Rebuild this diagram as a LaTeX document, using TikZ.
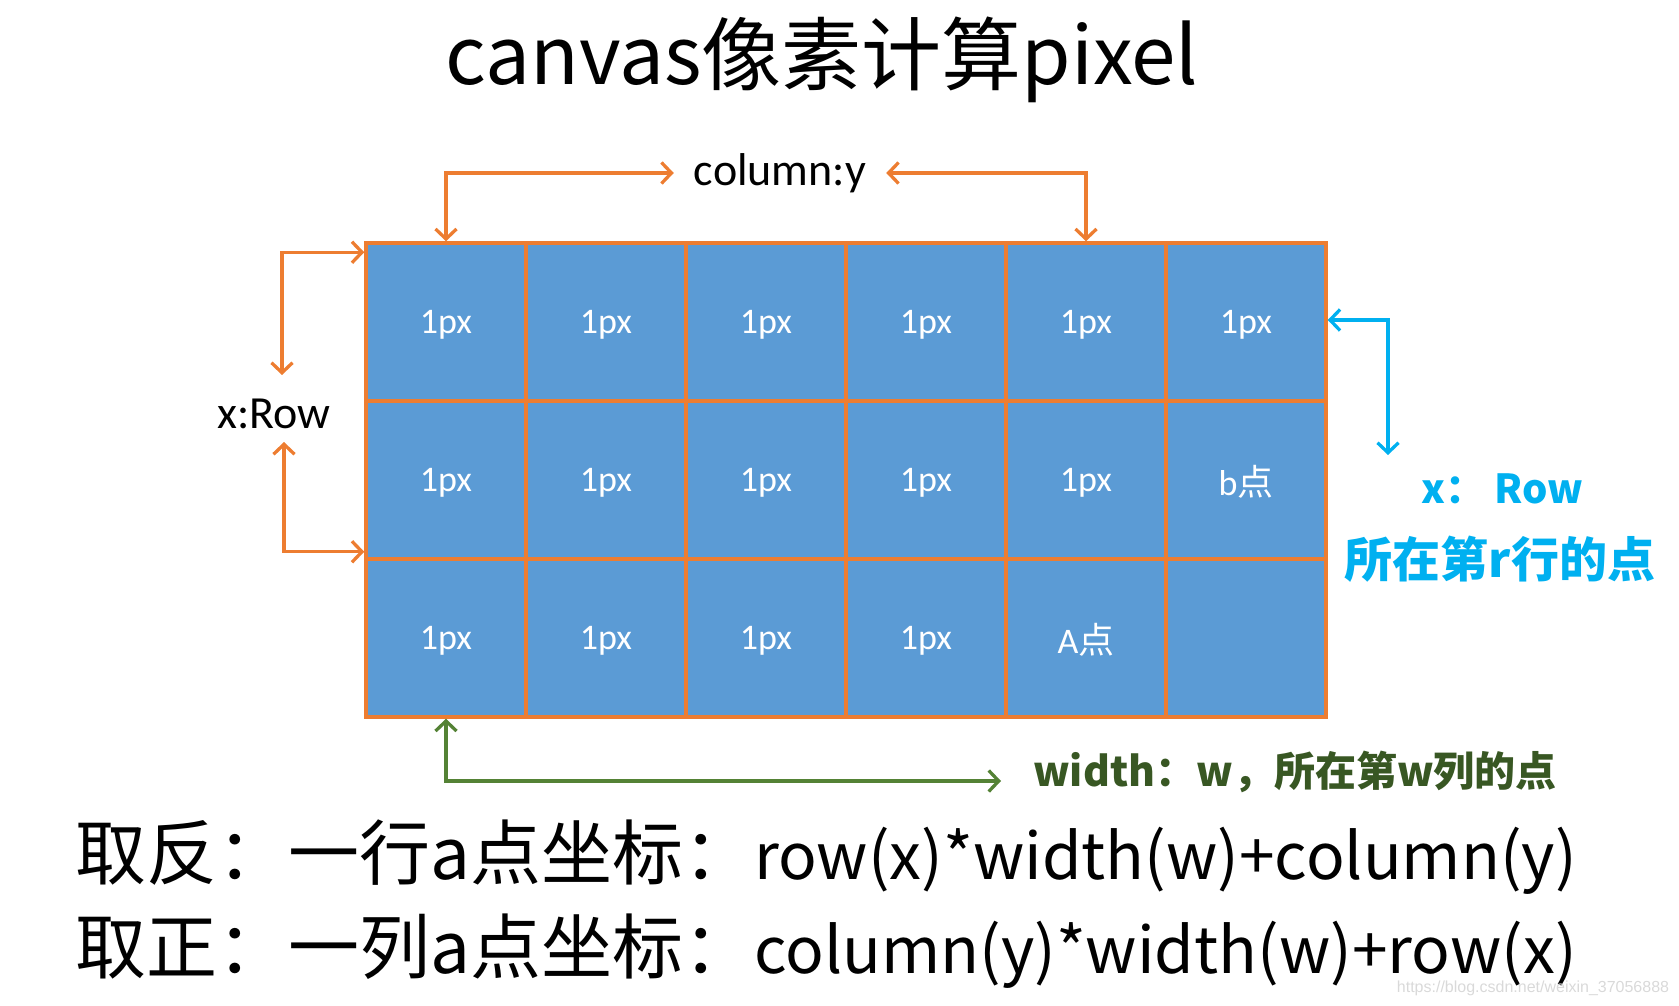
\documentclass[tikz,border=0pt]{standalone}
\usepackage{fontspec}
\setmainfont{Carlito}
\newfontfamily\cjk{Noto Sans CJK SC}
\newfontfamily\marksans{Liberation Sans}
\usetikzlibrary{arrows.meta, positioning, calc}

\definecolor{gridorange}{HTML}{ED7D31}
\definecolor{cellblue}{HTML}{5B9BD5}
\definecolor{rowcyan}{HTML}{00B0F0}
\definecolor{widthgreen}{HTML}{548235}
\definecolor{labelgreen}{HTML}{385723}
\definecolor{markgray}{HTML}{D9D9D9}

\newcommand{\px}[1]{\fontsize{#1}{#1}\selectfont}

\begin{document}
\begin{tikzpicture}[
    x=1pt, y=-1pt,
    cell/.style={draw=gridorange, fill=cellblue, line width=3.5pt, minimum width=160pt, minimum height=158pt, inner sep=0pt, text depth=0pt, text=white, font=\px{36}},
    hint/.style={font=\px{46}, inner sep=0pt},
    twoway/.style={line width=3.3pt, arrows={Straight Barb[length=10pt,width=21pt]-Straight Barb[length=10pt,width=21pt]}},
]
\useasboundingbox (0,0) rectangle (1679,1006);
\node[font=\cjk\px{80}] (title) at (822,60) {canvas像素计算pixel};
% pixel grid
\foreach \row [count=\r] in {{1px,1px,1px,1px,1px,1px},{1px,1px,1px,1px,1px,b{\cjk 点}},{1px,1px,1px,1px,A{\cjk 点},{}}} {
    \foreach \t [count=\c] in \row {
        \node[cell] (c\r\c) at ({446+160*(\c-1)}, {322+158*(\r-1)}) {\t};
    }
}
% column arrows
\node[hint, inner xsep=20pt] (collab) at (780,173) {column:y};
\draw[twoway, gridorange] (c11.north) |- (collab.west);
\draw[twoway, gridorange] (c15.north) |- (collab.east);
% row arrows
\node[hint] (rowlab) at (274,414) {x:Row};
\coordinate (rowup) at (282,375);
\coordinate (rowdown) at (284,442);
\draw[twoway, gridorange] (rowup) |- ([yshift=-11pt]c11.north west);
\draw[twoway, gridorange] (rowdown) |- ([yshift=9pt]c21.south west);
% right side
\coordinate (cyantip) at (1388,455);
\draw[twoway, rowcyan] ([yshift=2pt]c16.east) -| (cyantip);
\node[font=\cjk\bfseries\px{40}, text=rowcyan] (rowname) at (1502,489) {x： Row};
\node[font=\cjk\bfseries\px{48}, text=rowcyan] (rowpoint) at (1500,559) {所在第r行的点};
% bottom
\coordinate (greentip) at (1001,781);
\draw[twoway, widthgreen] (c31.south) |- (greentip);
\node[font=\cjk\bfseries\px{41}, text=labelgreen, anchor=west, inner sep=0pt] (widthlab) at (1033,772) {width：w，所在第w列的点};
\node[font=\cjk\px{71}, anchor=west, inner sep=0pt] (flip) at (75,857) {取反：一行a点坐标：{\px{64}row(x)*width(w)+column(y)}};
\node[font=\cjk\px{71}, anchor=west, inner sep=0pt] (keep) at (75,951) {取正：一列a点坐标：{\px{64}column(y)*width(w)+row(x)}};
\node[font=\marksans\px{16}, text=markgray, inner sep=0pt] (mark) at (1533,988) {https://blog.csdn.net/weixin\_37056888};
\end{tikzpicture}
\end{document}
